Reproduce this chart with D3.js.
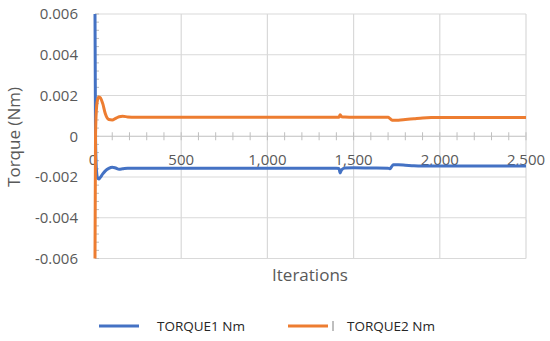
<!DOCTYPE html>
<html>
<head>
<meta charset="utf-8">
<script src="https://cdn.jsdelivr.net/npm/d3@7"></script>
<style>
  body { margin: 0; background: #fff; }
  svg { display: block; font-family: "Open Sans", sans-serif; }
</style>
</head>
<body>
<svg width="550" height="341"></svg>
<script>
// iterations
var iters = [0, 3, 8, 15, 22, 30, 45, 60, 80, 100, 120, 140, 160, 190, 230, 300, 500, 800, 1000, 1200, 1400,
  1415, 1422, 1430, 1450, 1500, 1600, 1700, 1710, 1720, 1730, 1760, 1800, 1850, 1900, 1950, 2000, 2100, 2200, 2300, 2400, 2500];
var torque1 = [0.006, 0.0, -0.0016, -0.00205, -0.0021, -0.00203, -0.00185, -0.0017, -0.00158, -0.00152, -0.00156, -0.00162, -0.0016, -0.00157, -0.00157, -0.00157, -0.00157, -0.00157, -0.00157, -0.00157, -0.00157,
  -0.00158, -0.0018, -0.00165, -0.00156, -0.00155, -0.00156, -0.00157, -0.0016, -0.0015, -0.0014, -0.0014, -0.00142, -0.00145, -0.00146, -0.00146, -0.00146, -0.00146, -0.00146, -0.00146, -0.00146, -0.00146];
var torque2 = [-0.006, 0.0, 0.0013, 0.0018, 0.00193, 0.0019, 0.0016, 0.0011, 0.00082, 0.0008, 0.00088, 0.00096, 0.00098, 0.00095, 0.00093, 0.00093, 0.00093, 0.00093, 0.00093, 0.00093, 0.00093,
  0.00093, 0.00106, 0.00096, 0.00094, 0.00093, 0.00093, 0.00093, 0.00088, 0.0008, 0.00078, 0.00079, 0.00082, 0.00086, 0.0009, 0.00092, 0.00092, 0.00092, 0.00092, 0.00092, 0.00092, 0.00092];
var xTicks = [0, 500, 1000, 1500, 2000, 2500];
var yTicks = [-0.006, -0.004, -0.002, 0, 0.002, 0.004, 0.006];
var seriesNames = ["TORQUE1 Nm", "TORQUE2 Nm"];
var colors = ["#4472C4", "#ED7D31"];

var svg = d3.select("svg");
var x = d3.scaleLinear().domain([0, 2500]).range([95, 526]);
var y = d3.scaleLinear().domain([-0.006, 0.006]).range([258.5, 14]);

// gridlines
svg.append("g").selectAll("line").data(yTicks).enter().append("line")
  .attr("x1", x(0)).attr("x2", x(2500))
  .attr("y1", function(d) { return y(d); }).attr("y2", function(d) { return y(d); })
  .attr("stroke", function(d) { return d === 0 ? "#bfbfbf" : "#d9d9d9"; })
  .attr("stroke-width", 1.2);
svg.append("g").selectAll("line").data(xTicks).enter().append("line")
  .attr("x1", function(d) { return x(d); }).attr("x2", function(d) { return x(d); })
  .attr("y1", y(0.006)).attr("y2", y(-0.006))
  .attr("stroke", "#d9d9d9").attr("stroke-width", 1.2);

// minor ticks on the zero axis and the y axis
svg.append("g").selectAll("line").data(d3.range(0, 2501, 100)).enter().append("line")
  .attr("x1", function(d) { return x(d); }).attr("x2", function(d) { return x(d); })
  .attr("y1", y(0) - 4).attr("y2", y(0) + 4)
  .attr("stroke", "#bfbfbf");
svg.append("g").selectAll("line").data(d3.range(-15, 16).map(function(i) { return i * 0.0004; })).enter().append("line")
  .attr("x1", x(0)).attr("x2", x(0) + 4)
  .attr("y1", function(d) { return y(d); }).attr("y2", function(d) { return y(d); })
  .attr("stroke", "#bfbfbf");

// tick labels
svg.append("g").selectAll("text").data(yTicks).enter().append("text")
  .attr("x", 78).attr("y", function(d) { return y(d); })
  .attr("dy", "0.35em").attr("text-anchor", "end")
  .attr("font-size", 15).attr("fill", "#595959")
  .text(function(d) { return d === 0 ? "0" : d3.format(".3f")(d).replace("\u2212", "-"); });
svg.append("g").selectAll("text").data(xTicks).enter().append("text")
  .attr("x", function(d) { return x(d) - (d === 0 ? 2 : 0); }).attr("y", 165)
  .attr("text-anchor", "middle")
  .attr("font-size", 15).attr("fill", "#595959")
  .text(function(d) { return d3.format(",")(d); });

// series
var line = d3.line().curve(d3.curveMonotoneX);
[torque1, torque2].forEach(function(vals, k) {
  svg.append("path")
    .attr("d", line(iters.map(function(it, i) { return [x(it), y(vals[i])]; })))
    .attr("fill", "none").attr("stroke", colors[k])
    .attr("stroke-width", 3).attr("stroke-linejoin", "round");
});

// axis titles
svg.append("text").attr("x", 310).attr("y", 281).attr("text-anchor", "middle")
  .attr("font-size", 17).attr("fill", "#595959").text("Iterations");
svg.append("text").attr("transform", "translate(20,137) rotate(-90)").attr("text-anchor", "middle")
  .attr("font-size", 17).attr("fill", "#595959").text("Torque (Nm)");

// legend
var legX = [99, 288], legText = [157, 347];
seriesNames.forEach(function(name, k) {
  svg.append("line").attr("x1", legX[k]).attr("x2", legX[k] + 40)
    .attr("y1", 326).attr("y2", 326)
    .attr("stroke", colors[k]).attr("stroke-width", 3);
  svg.append("text").attr("x", legText[k]).attr("y", 330.5)
    .attr("font-size", 13.5).attr("fill", "#262626").text(name);
});
svg.append("line").attr("x1", 333).attr("x2", 333).attr("y1", 321).attr("y2", 331)
  .attr("stroke", "#7f7f7f").attr("stroke-width", 1);
</script>
</body>
</html>
